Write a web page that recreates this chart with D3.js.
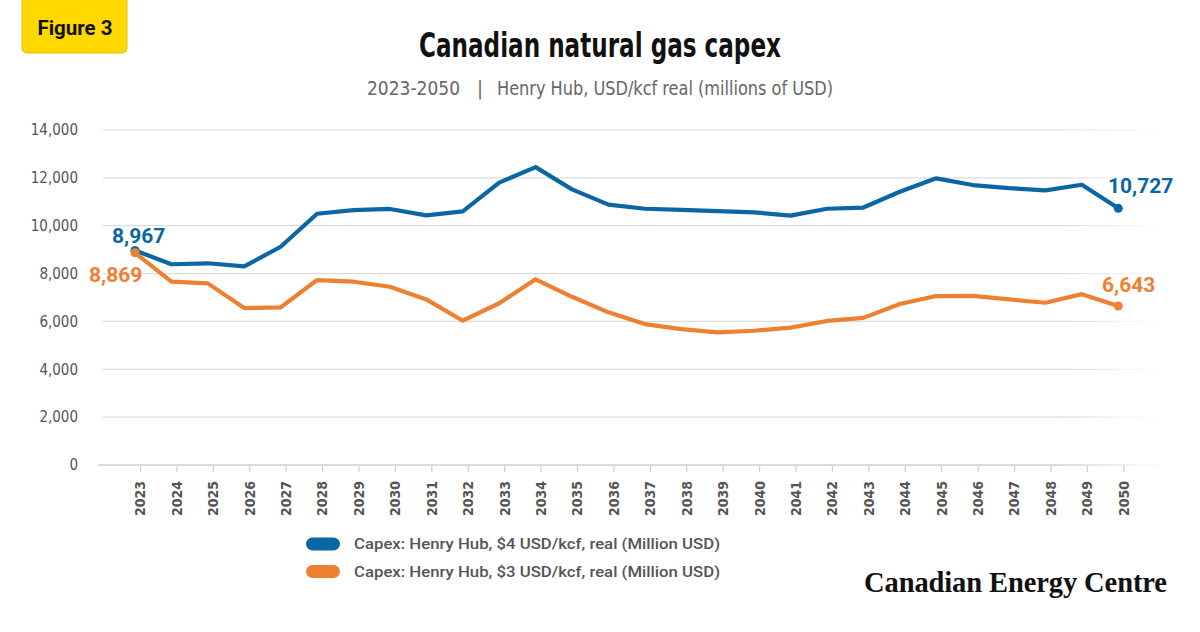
<!DOCTYPE html>
<html>
<head>
<meta charset="utf-8">
<script src="https://cdn.jsdelivr.net/npm/d3@7"></script>
<style>
  body { margin: 0; background: #fff; }
  svg { display: block; }
  .cond { font-family: 'DejaVu Sans Condensed', 'DejaVu Sans', sans-serif; font-stretch: condensed; }
</style>
</head>
<body>
<div id="chart"></div>
<script>
const years = d3.range(2023, 2051);
const yTicks = [0, 2000, 4000, 6000, 8000, 10000, 12000, 14000];

// Capex: Henry Hub $4 USD/kcf (Million USD)
const capex4 = [8967, 8390, 8430, 8300, 9120, 10500, 10650, 10700, 10430, 10600,
  11800, 12450, 11520, 10880, 10710, 10660, 10610, 10560, 10420, 10710,
  10760, 11420, 11980, 11700, 11570, 11480, 11710, 10727];
// Capex: Henry Hub $3 USD/kcf (Million USD)
const capex3 = [8869, 7660, 7590, 6560, 6590, 7730, 7660, 7450, 6920, 6030,
  6760, 7760, 7030, 6380, 5890, 5680, 5540, 5610, 5740, 6020,
  6150, 6730, 7060, 7070, 6920, 6780, 7140, 6643];

const seriesNames = [
  "Capex: Henry Hub, $4 USD/kcf, real (Million USD)",
  "Capex: Henry Hub, $3 USD/kcf, real (Million USD)"
];
const colors = ["#0b66a4", "#f08031"];

const W = 1200, H = 632;
const svg = d3.select("#chart").append("svg")
  .attr("width", W).attr("height", H);

const defs = svg.append("defs");
const fade = defs.append("linearGradient").attr("id", "fade")
  .attr("gradientUnits", "userSpaceOnUse")
  .attr("x1", 103).attr("x2", 1165).attr("y1", 0).attr("y2", 0);
fade.append("stop").attr("offset", "0.9").attr("stop-color", "#dcdcdc");
fade.append("stop").attr("offset", "1").attr("stop-color", "#dcdcdc").attr("stop-opacity", 0);

// badge
svg.append("rect")
  .attr("x", 22).attr("y", -8).attr("width", 105).attr("height", 61)
  .attr("rx", 5).attr("fill", "#ffd800").attr("stroke", "#e3c200");
svg.append("text")
  .attr("x", 75).attr("y", 35).attr("text-anchor", "middle")
  .style("font-family", "Roboto").style("font-weight", 700).style("font-size", "20.5px")
  .attr("fill", "#111").text("Figure 3");

// title + subtitle
svg.append("text").attr("class", "cond")
  .attr("x", 600).attr("y", 57).attr("text-anchor", "middle")
  .style("font-weight", 700).style("font-size", "33px")
  .attr("textLength", 362).attr("lengthAdjust", "spacingAndGlyphs")
  .attr("fill", "#111").text("Canadian natural gas capex");

const sub = svg.append("g").attr("class", "cond")
  .style("font-size", "20px").style("font-weight", 300)
  .attr("fill", "#666");
sub.append("text").attr("x", 367).attr("y", 95).attr("textLength", 93)
  .attr("lengthAdjust", "spacingAndGlyphs").text("2023-2050");
sub.append("text").attr("x", 480).attr("y", 95).attr("text-anchor", "middle").text("|");
sub.append("text").attr("x", 497).attr("y", 95).attr("textLength", 336)
  .attr("lengthAdjust", "spacingAndGlyphs").text("Henry Hub, USD/kcf real (millions of USD)");

// scales
const x = d3.scalePoint().domain(years).range([140, 1123.3]);
const y = d3.scaleLinear().domain([0, 14000]).range([465, 130]);
const shift = -5; // line points sit a little left of the ticks

// gridlines
svg.append("g").selectAll("line")
  .data(yTicks.filter(d => d > 0))
  .join("line")
  .attr("x1", 103).attr("x2", 1165)
  .attr("y1", d => y(d)).attr("y2", d => y(d))
  .attr("stroke", "url(#fade)").attr("stroke-width", 1.2);

// y axis labels
const yAxis = svg.append("g").attr("transform", "translate(78,0)")
  .call(d3.axisLeft(y).tickValues(yTicks).tickSize(0).tickPadding(0)
    .tickFormat(d3.format(",")));
yAxis.select(".domain").remove();
yAxis.selectAll("text").attr("class", "cond")
  .style("font-size", "15px").attr("fill", "#555");

// x axis
const xAxis = svg.append("g").attr("transform", "translate(0,465)")
  .call(d3.axisBottom(x).tickSize(7).tickPadding(0));
xAxis.select(".domain").remove();
xAxis.selectAll(".tick line").attr("stroke", "#cfcfcf").attr("stroke-width", 1.2);
xAxis.selectAll("text").attr("class", "cond")
  .attr("transform", "rotate(-90)")
  .attr("x", -16).attr("y", 0).attr("dy", "0.35em")
  .attr("text-anchor", "end")
  .style("font-weight", 700)
  .style("font-size", "14px").attr("fill", "#555");
svg.append("line")
  .attr("x1", 98).attr("x2", 1165).attr("y1", 465).attr("y2", 465)
  .attr("stroke", "url(#fade)").attr("stroke-width", 2);

// lines
const line = d3.line()
  .x((d, i) => x(years[i]) + shift)
  .y(d => y(d));
[capex4, capex3].forEach((s, k) => {
  svg.append("path").datum(s)
    .attr("d", line).attr("fill", "none")
    .attr("stroke", colors[k]).attr("stroke-width", 4.2)
    .attr("stroke-linejoin", "round").attr("stroke-linecap", "round");
  [0, s.length - 1].forEach(i => {
    svg.append("circle")
      .attr("cx", x(years[i]) + shift).attr("cy", y(s[i]))
      .attr("r", 4.5).attr("fill", colors[k]);
  });
});

// end labels
const labelStyle = sel => sel
  .style("font-family", "Roboto").style("font-weight", 700).style("font-size", "21px");
const fmt = d3.format(",");
labelStyle(svg.append("text")).attr("x", 112).attr("y", 243)
  .attr("fill", colors[0]).text(fmt(capex4[0]));
labelStyle(svg.append("text")).attr("x", 89).attr("y", 282)
  .attr("fill", colors[1]).text(fmt(capex3[0]));
labelStyle(svg.append("text")).attr("x", 1108).attr("y", 193)
  .attr("fill", colors[0]).text(fmt(capex4[27]));
labelStyle(svg.append("text")).attr("x", 1102).attr("y", 292)
  .attr("fill", colors[1]).text(fmt(capex3[27]));

// legend
const legend = svg.append("g");
seriesNames.forEach((name, k) => {
  const ly = 544 + k * 27.5;
  legend.append("rect")
    .attr("x", 306).attr("y", ly - 6.5).attr("width", 34).attr("height", 13)
    .attr("rx", 6.5).attr("fill", colors[k]);
  legend.append("text")
    .attr("x", 354).attr("y", ly).attr("dy", "0.35em")
    .style("font-family", "Roboto").style("font-weight", 500).style("font-size", "15px")
    .attr("textLength", 366).attr("lengthAdjust", "spacingAndGlyphs")
    .attr("fill", "#555").text(name);
});

// logo
svg.append("text")
  .attr("x", 864).attr("y", 592)
  .style("font-family", "'Liberation Serif'").style("font-weight", 700).style("font-size", "28.5px")
  .style("letter-spacing", "-0.1px")
  .attr("fill", "#111").text("Canadian Energy Centre");
</script>
</body>
</html>
